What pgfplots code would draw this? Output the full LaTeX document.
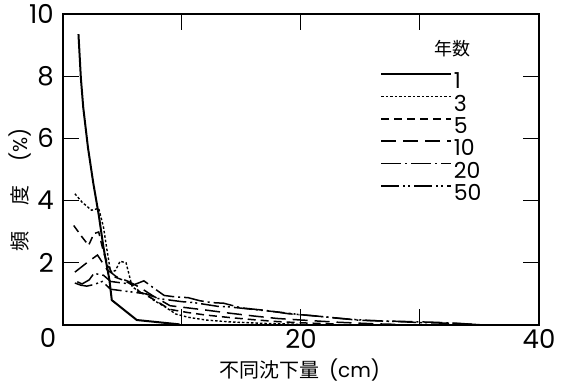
\documentclass[border=0pt]{standalone}
\usepackage{pgfplots}
\pgfplotsset{compat=1.18}
\usepackage{fontspec}
\setmainfont{Poppins}
\newfontfamily\cjk{Noto Sans CJK JP}
\begin{document}
\begin{tikzpicture}
\path[use as bounding box] (0pt,0pt) rectangle (566pt,385pt);
\begin{axis}[
  at={(63pt,60pt)}, anchor=south west,
  scale only axis, width=476pt, height=311pt,
  xmin=0, xmax=40, ymin=0, ymax=10,
  xtick={0,10,20,30,40}, xticklabels={,,20,,40},
  ytick={0,2,4,6,8,10}, yticklabels={,2,4,6,8,10},
  tick align=inside, major tick length=16pt,
  axis line style={line width=1.3pt},
  every tick/.style={line width=1pt, black},
  /pgf/number format/assume math mode=true,
  xticklabel style={font=\fontsize{26}{26}\selectfont, inner sep=0pt, yshift=-4pt},
  yticklabel style={font=\fontsize{26}{26}\selectfont, inner sep=0pt, xshift=-9pt},
  clip=false,
  legend style={at={(axis cs:26.4,8.22)}, anchor=north west, draw=none, fill=none,
    font=\fontsize{22}{22}\selectfont, row sep=1.7pt,
    nodes={inner sep=1.5pt}},
  legend cell align=left,
  legend image code/.code={\draw[#1] (0pt,7.5pt) -- (70pt,7.5pt);},
]
\addplot[black, line width=2pt] coordinates {(1.3,9.35) (1.5,7.95) (1.7,7.0) (2.1,5.7) (2.55,4.55) (3.0,3.55) (3.4,2.5) (3.9,1.45) (4.1,0.8) (6.2,0.16) (9.8,0.02)};
\addlegendentry{1}
\addplot[black, line width=1.4pt, dash pattern=on 2.5pt off 2pt] coordinates {(1.0,4.22) (1.6,3.95) (2.4,3.69) (3.0,3.75) (3.4,3.15) (3.7,2.4) (4.0,1.7) (4.4,1.75) (4.8,2.05) (5.3,2.0) (5.8,1.25) (6.4,1.05) (7.0,1.0) (7.6,0.8) (8.5,0.6) (9.5,0.35) (10.5,0.25) (12,0.16) (14,0.1) (17,0.05) (20,0.02)};
\addlegendentry{3}
\addplot[black, line width=1.5pt, dash pattern=on 8pt off 5pt] coordinates {(0.9,3.2) (1.6,2.83) (2.15,2.56) (2.6,2.94) (3.0,2.99) (3.4,2.35) (3.8,1.9) (4.3,1.55) (5.0,1.45) (5.8,1.3) (6.5,1.05) (7.5,0.85) (9,0.5) (10.5,0.4) (12,0.32) (14,0.24) (16,0.17) (18,0.11) (20,0.07) (23,0.03)};
\addlegendentry{5}
\addplot[black, line width=1.5pt, dash pattern=on 15pt off 7pt] coordinates {(1.0,1.7) (2.0,2.0) (2.9,2.25) (3.7,1.78) (4.5,1.55) (5.5,1.4) (6.5,1.2) (7.5,0.95) (9,0.62) (10.5,0.55) (12,0.48) (14,0.38) (16,0.29) (18,0.21) (20,0.16) (23,0.09) (26,0.04) (28,0.02)};
\addlegendentry{10}
\addplot[black, line width=1.5pt, dash pattern=on 20pt off 4pt on 2pt off 4pt] coordinates {(1.2,1.39) (1.6,1.32) (2.2,1.45) (2.6,1.66) (3.4,1.6) (4.0,1.4) (5.0,1.35) (6.0,1.3) (6.8,1.42) (7.4,1.25) (8.5,0.95) (9.5,0.9) (10.5,0.88) (11.5,0.78) (12.5,0.72) (13.5,0.7) (15,0.55) (17,0.47) (19,0.36) (21,0.3) (23,0.22) (25,0.15) (28,0.12) (31,0.09) (33,0.06) (34.5,0.02)};
\addlegendentry{20}
\addplot[black, line width=1.5pt, dash pattern=on 18pt off 4pt on 2pt off 3pt on 2pt off 4pt] coordinates {(1.0,1.35) (1.5,1.28) (2.0,1.25) (2.6,1.3) (3.3,1.4) (4.0,1.15) (5.0,1.1) (6.0,1.05) (7.0,1.0) (8.0,0.85) (9.0,0.8) (10,0.75) (11,0.72) (12,0.66) (13,0.6) (14,0.58) (16,0.5) (18,0.42) (20,0.33) (22,0.26) (24,0.19) (26,0.14) (28,0.11) (30,0.08) (32,0.06) (34,0.03) (35,0.01)};
\addlegendentry{50}
\node[font=\cjk\fontsize{18}{18}\selectfont] at (axis cs:32.7,8.88) {年数};
\node[font=\fontsize{26}{26}\selectfont, inner sep=0pt] at ([xshift=-15pt,yshift=-13pt]rel axis cs:0,0) {0};
\node[rotate=90, font=\cjk\fontsize{20}{20}\selectfont] at (rel axis cs:-0.091,0.435) {頻\hspace{26pt}度\hspace{24pt}{\rmfamily(\%)}};
\node[font=\cjk\fontsize{20}{20}\selectfont, inner sep=0pt] at ([yshift=-45pt]rel axis cs:0.497,0) {不同沈下量\hspace{10pt}{\rmfamily(cm)}};
\end{axis}
\end{tikzpicture}
\end{document}
